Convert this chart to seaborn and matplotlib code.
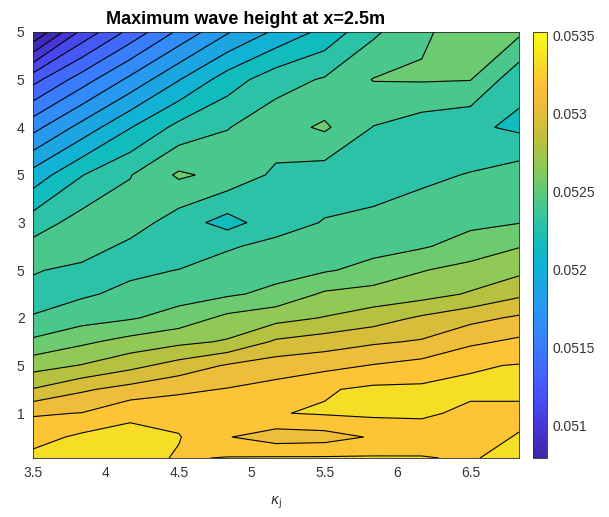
import numpy as np
import seaborn as sns
import matplotlib
matplotlib.use("Agg")
import matplotlib.pyplot as plt
from matplotlib.colors import Normalize, LinearSegmentedColormap
from matplotlib.cm import ScalarMappable

# grid of the parameter study
kappa_j = [3.5, 3.8333, 4.1667, 4.5, 4.8333, 5.1667, 5.5, 5.8333, 6.1667, 6.5, 6.8333]
y_vals = [5.0, 4.5, 4.0, 3.5, 3.0, 2.75, 2.5, 2.25, 2.0, 1.75, 1.5, 1.25, 1.0, 0.75, 0.53]

# maximum wave height at x=2.5m, one row per y value (top to bottom)
h_500 = [0.05079, 0.051213, 0.051479, 0.051726, 0.051947, 0.052116, 0.052259, 0.052454, 0.052597, 0.052649, 0.052636]
h_450 = [0.051395, 0.051635, 0.051863, 0.052084, 0.052285, 0.052428, 0.052493, 0.052615, 0.05262, 0.052614, 0.052389]
h_400 = [0.051785, 0.052006, 0.052214, 0.052389, 0.052474, 0.052558, 0.05263, 0.052476, 0.052415, 0.052376, 0.052324]
h_350 = [0.052142, 0.052344, 0.052474, 0.05263, 0.052571, 0.052454, 0.052415, 0.052415, 0.052454, 0.052487, 0.052545]
h_300 = [0.052415, 0.052532, 0.052545, 0.052415, 0.052298, 0.052428, 0.052487, 0.052513, 0.052545, 0.052584, 0.052606]
h_275 = [0.052519, 0.052545, 0.052448, 0.052402, 0.052467, 0.052513, 0.052545, 0.052571, 0.052597, 0.052662, 0.052734]
h_250 = [0.05249, 0.052448, 0.052454, 0.052483, 0.052532, 0.052565, 0.052597, 0.052649, 0.052734, 0.052786, 0.052838]
h_225 = [0.052441, 0.052461, 0.052513, 0.052558, 0.052591, 0.052643, 0.05276, 0.052792, 0.052818, 0.052883, 0.052974]
h_200 = [0.052487, 0.052558, 0.052597, 0.052662, 0.052773, 0.052825, 0.052877, 0.052935, 0.05302, 0.053091, 0.05315]
h_175 = [0.052636, 0.052714, 0.052786, 0.052838, 0.052883, 0.05302, 0.053065, 0.053111, 0.053143, 0.053234, 0.053286]
h_150 = [0.052818, 0.052877, 0.052961, 0.053052, 0.053143, 0.053195, 0.053221, 0.053267, 0.053306, 0.053377, 0.053397]
h_125 = [0.053007, 0.053111, 0.053176, 0.053234, 0.053267, 0.053306, 0.053377, 0.053416, 0.053416, 0.053416, 0.053416]
h_100 = [0.053247, 0.053263, 0.053364, 0.053351, 0.053299, 0.053384, 0.053403, 0.053416, 0.05341, 0.053364, 0.053364]
h_075 = [0.053338, 0.053416, 0.053429, 0.053397, 0.053267, 0.053195, 0.053208, 0.053273, 0.053325, 0.053351, 0.053397]
h_053 = [0.053429, 0.053468, 0.053442, 0.053377, 0.053397, 0.053403, 0.053403, 0.053403, 0.053397, 0.053377, 0.053442]

y_ticks = [1, 1.5, 2, 2.5, 3, 3.5, 4, 4.5, 5]
y_ticklabels = ["1", "5", "2", "5", "3", "5", "4", "5", "5"]
x_ticks = [3.5, 4, 4.5, 5, 5.5, 6, 6.5]
x_ticklabels = ["3.5", "4", "4.5", "5", "5.5", "6", "6.5"]
cbar_ticks = [0.051, 0.0515, 0.052, 0.0525, 0.053, 0.0535]
cbar_ticklabels = ["0.051", "0.0515", "0.052", "0.0525", "0.053", "0.0535"]

Z = np.array([h_500, h_450, h_400, h_350, h_300, h_275, h_250, h_225,
              h_200, h_175, h_150, h_125, h_100, h_075, h_053])
X, Y = np.meshgrid(kappa_j, y_vals)

sns.set_style("white")
plt.rcParams["font.family"] = ["Liberation Sans", "DejaVu Sans"]

# parula-like colormap
parula = LinearSegmentedColormap.from_list("parula", [
    (0.0, (0.2422, 0.1504, 0.6603)),
    (0.0625, (0.2700, 0.2000, 0.8200)),
    (0.125, (0.2800, 0.2900, 0.9400)),
    (0.1875, (0.2700, 0.3800, 0.9900)),
    (0.25, (0.2300, 0.4700, 0.9950)),
    (0.3125, (0.1900, 0.5500, 0.9700)),
    (0.375, (0.1400, 0.6200, 0.9200)),
    (0.4375, (0.0700, 0.6900, 0.8500)),
    (0.5, (0.0600, 0.7350, 0.7500)),
    (0.5625, (0.2000, 0.7700, 0.6300)),
    (0.625, (0.3686, 0.7915, 0.4805)),
    (0.6875, (0.5573, 0.7894, 0.3379)),
    (0.75, (0.7449, 0.7547, 0.2286)),
    (0.8125, (0.9003, 0.7342, 0.2290)),
    (0.875, (0.9946, 0.7512, 0.2185)),
    (0.9375, (0.9650, 0.8870, 0.1370)),
    (1.0, (0.9769, 0.9839, 0.0805)),
], N=256)

vmin, vmax = 0.05079, 0.05352
levels = np.linspace(vmin, vmax, 22)
norm = Normalize(vmin=vmin, vmax=vmax)
half_band = 0.5 / (len(levels) - 1)
fill_colors = [parula(max(norm(v) - half_band, 0.0)) for v in levels[:-1]]

fig = plt.figure(figsize=(6.09, 5.17), dpi=100)
ax = fig.add_axes([33 / 609, 1 - 458 / 517, 486 / 609, 426 / 517])
cax = fig.add_axes([533 / 609, 1 - 458 / 517, 14 / 609, 426 / 517])

ax.contourf(X, Y, Z, levels=levels, colors=fill_colors)
ax.contour(X, Y, Z, levels=levels[1:-1], colors="black", linewidths=0.8)

ax.set_xlim(3.5, 6.8333)
ax.set_ylim(0.53, 5.0)
ax.set_xticks(x_ticks)
ax.set_xticklabels(x_ticklabels)
ax.set_yticks(y_ticks)
ax.set_yticklabels(y_ticklabels)
ax.tick_params(direction="in", top=True, right=True, length=4, width=0.6,
               color="#262626", labelcolor="#333333", labelsize=10, pad=6)
for s in ax.spines.values():
    s.set_color("#262626")
    s.set_linewidth(0.6)

ax.text(0.438, 1.019, "Maximum wave height at x=2.5m", transform=ax.transAxes,
        ha="center", va="baseline", fontsize=13, fontweight="bold", color="black")
ax.set_xlabel(r"$\kappa_\mathrm{j}$", fontsize=10, color="#333333", labelpad=10)

sm = ScalarMappable(norm=norm, cmap=parula)
cb = fig.colorbar(sm, cax=cax)
cb.set_ticks(cbar_ticks)
cb.set_ticklabels(cbar_ticklabels)
cax.tick_params(direction="in", length=4, width=0.6, color="#262626",
                labelcolor="#333333", labelsize=10, pad=4)
cb.outline.set_edgecolor("#262626")
cb.outline.set_linewidth(0.6)

fig.savefig("out.png", dpi=100)
